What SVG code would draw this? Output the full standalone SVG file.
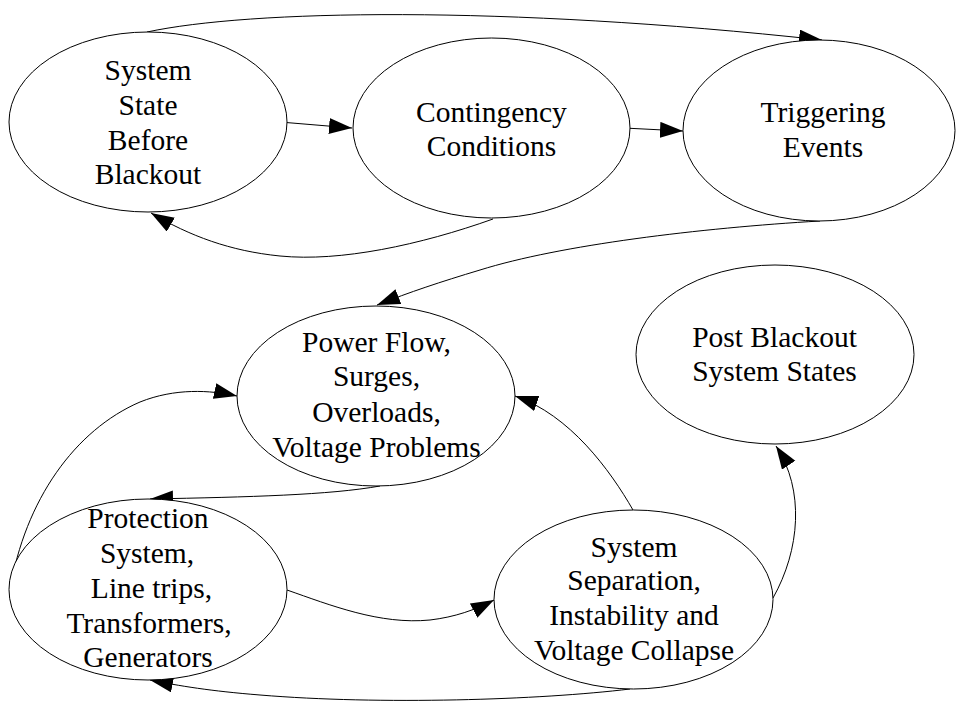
<svg xmlns="http://www.w3.org/2000/svg" width="956" height="702" viewBox="0 0 956 702">
<defs>
<style>
.node ellipse{fill:#fff;stroke:#000;stroke-width:1}
.node text{font-family:"Liberation Serif","Times New Roman",serif;font-size:29.5px;fill:#000;text-anchor:middle}
.edges path{fill:none;stroke:#000;stroke-width:1;marker-end:url(#arr)}
</style>
<marker id="arr" markerUnits="userSpaceOnUse" markerWidth="24" markerHeight="17" refX="23" refY="8" orient="auto" viewBox="0 0 24 17">
<path d="M0,0 L23,8 L0,16 z" fill="#000"/>
</marker>
</defs>
<rect width="956" height="702" fill="#fff"/>
<g class="edges">
<path d="M280,122 L352,128"/>
<path d="M624,128 L683,131"/>
<path d="M147,32 C 250,10 500,5 822,40"/>
<path d="M493,219 C 420,245 340,262 280,256 C 230,251 190,236 151,213"/>
<path d="M820,221 C 700,228 560,245 480,270 C 440,282 410,292 377,305"/>
<path d="M10,590 C 25,500 75,430 140,402 C 175,388 210,390 237,396"/>
<path d="M380,486 C 330,495 250,497 150,499"/>
<path d="M287,590 C 330,605 380,625 430,620 C 455,617 475,610 494,600"/>
<path d="M630,689 C 540,700 380,705 260,695 C 210,691 180,686 150,680"/>
<path d="M633,510 C 610,470 570,415 515,396"/>
<path d="M773,598 C 800,550 805,490 776,446"/>
</g>
<g id="n1" class="node">
<ellipse cx="148" cy="122" rx="139" ry="90"/>
<text x="148" y="80">System</text>
<text x="148" y="115">State</text>
<text x="148" y="150">Before</text>
<text x="148" y="184">Blackout</text>
</g>
<g id="n2" class="node">
<ellipse cx="491.5" cy="128" rx="138.5" ry="90"/>
<text x="491.5" y="122">Contingency</text>
<text x="491.5" y="156">Conditions</text>
</g>
<g id="n3" class="node">
<ellipse cx="819" cy="130.5" rx="136" ry="90.5"/>
<text x="823" y="122">Triggering</text>
<text x="823" y="157">Events</text>
</g>
<g id="n4" class="node">
<ellipse cx="376" cy="396" rx="139" ry="90"/>
<text x="376.5" y="352">Power Flow,</text>
<text x="376.5" y="386">Surges,</text>
<text x="376.5" y="421.5">Overloads,</text>
<text x="376.5" y="456.5">Voltage Problems</text>
</g>
<g id="n5" class="node">
<ellipse cx="775" cy="354.5" rx="139" ry="89.5"/>
<text x="774.5" y="346.5">Post Blackout</text>
<text x="774.5" y="380.5">System States</text>
</g>
<g id="n6" class="node">
<ellipse cx="148" cy="589.5" rx="139" ry="90.5"/>
<text x="148" y="528">Protection</text>
<text x="147" y="563">System,</text>
<text x="151.5" y="598">Line trips,</text>
<text x="149" y="633">Transformers,</text>
<text x="148" y="667">Generators</text>
</g>
<g id="n7" class="node">
<ellipse cx="633.5" cy="599.5" rx="139.5" ry="89.5"/>
<text x="634" y="556.5">System</text>
<text x="634" y="590">Separation,</text>
<text x="634" y="625">Instability and</text>
<text x="634" y="660">Voltage Collapse</text>
</g>
</svg>
